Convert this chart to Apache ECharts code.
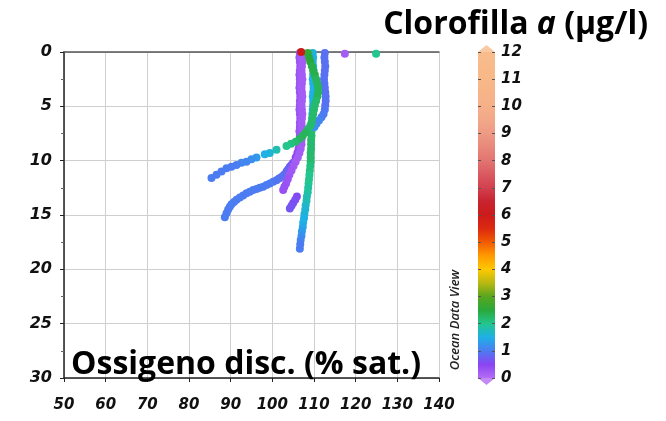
<!DOCTYPE html>
<html><head><meta charset="utf-8">
<script src="https://cdn.jsdelivr.net/npm/echarts@6/dist/echarts.min.js"></script>
<style>html,body{margin:0;padding:0;background:#fff}#c{width:666px;height:421px}</style>
</head><body><div id="c"></div>
<script>
// [oxygen % sat, depth m, chlorophyll a µg/l]
const profileTeal = [[109.7,0.1,1.6],[109.8,0.5,1.5],[109.7,0.9,1.5],[109.8,1.3,1.5],[109.9,1.7,1.5],[109.8,2.1,1.5],[109.7,2.5,1.5],[109.8,2.9,1.5],[109.9,3.3,1.5],[109.8,3.7,1.5],[109.7,4.1,1.5],[109.8,4.5,1.5],[109.8,4.9,1.4],[109.7,5.3,1.4],[109.6,5.7,1.5],[109.6,6.1,1.6],[109.5,6.5,1.8],[109.5,6.9,2.0],[109.4,7.3,2.1],[109.4,7.7,2.2],[109.3,8.1,2.2],[109.3,8.5,2.2],[109.3,8.9,2.2],[109.2,9.3,2.2],[109.2,9.7,2.2],[109.2,10.1,2.2],[109.1,10.5,2.1],[109.0,10.9,2.1],[108.9,11.3,2.0],[108.8,11.7,2.0],[108.7,12.1,2.0],[108.6,12.5,1.9],[108.5,12.9,1.9],[108.3,13.3,1.8],[108.2,13.7,1.8],[108.0,14.1,1.7],[107.9,14.5,1.6],[107.7,14.9,1.6],[107.6,15.3,1.5],[107.4,15.7,1.5],[107.3,16.1,1.4],[107.1,16.5,1.3],[107.0,16.9,1.2],[106.8,17.3,1.1],[106.7,17.7,1.0],[106.6,18.1,1.0]];
const profileBlue = [[112.6,0.1,0.9],[112.5,0.5,0.9],[112.6,0.9,0.9],[112.7,1.3,0.9],[112.6,1.7,0.9],[112.5,2.1,0.9],[112.4,2.5,0.9],[112.5,2.9,0.9],[112.6,3.3,0.9],[112.7,3.7,0.9],[112.8,4.1,0.9],[112.8,4.5,0.9],[112.7,4.9,0.9],[112.6,5.3,0.95],[112.3,5.7,1.0],[111.8,6.0,1.0],[111.2,6.3,1.1],[110.6,6.6,1.1],[110.1,6.9,1.2]];
const profilePurpleA = [[106.6,0.1,0.3],[106.5,0.5,0.3],[106.6,0.9,0.3],[106.7,1.3,0.3],[106.6,1.7,0.3],[106.5,2.1,0.3],[106.6,2.5,0.3],[106.6,2.9,0.3],[106.5,3.3,0.3],[106.6,3.7,0.3],[106.7,4.1,0.3],[106.6,4.5,0.3],[106.6,4.9,0.3],[106.5,5.3,0.3],[106.6,5.7,0.3],[106.7,6.1,0.3],[106.6,6.5,0.3],[106.6,6.9,0.3],[106.5,7.3,0.3],[106.6,7.7,0.3],[106.6,8.1,0.3],[106.5,8.5,0.35],[106.3,8.9,0.4],[106.0,9.3,0.45],[105.6,9.7,0.5],[105.0,10.2,0.6],[104.6,10.4,0.65],[104.2,10.55,0.7],[103.8,10.8,0.75],[103.4,11.0,0.8],[102.8,11.3,0.85],[102.2,11.5,0.9],[101.6,11.65,0.9],[101.0,11.8,0.95],[100.2,11.95,0.95],[99.4,12.1,1.0],[98.6,12.25,1.0],[97.8,12.4,1.0],[97.0,12.5,1.0],[96.2,12.6,1.0],[95.4,12.7,1.0],[94.6,12.85,1.0],[93.8,13.0,1.0],[93.0,13.2,1.0],[92.2,13.4,1.0],[91.4,13.6,1.0],[90.8,13.8,1.0],[90.2,14.0,1.0],[89.8,14.25,1.0],[89.4,14.5,1.0],[89.0,14.85,1.0],[88.6,15.2,1.0]];
const profilePurpleB = [[107.1,0.1,0.2],[107.0,0.5,0.2],[107.2,0.9,0.2],[107.1,1.3,0.2],[107.0,1.7,0.2],[107.1,2.1,0.2],[107.2,2.5,0.2],[107.1,2.9,0.2],[107.0,3.3,0.2],[107.1,3.7,0.2],[107.2,4.1,0.2],[107.1,4.5,0.2],[107.0,4.9,0.2],[107.1,5.3,0.2],[107.2,5.7,0.2],[107.1,6.1,0.2],[107.0,6.5,0.2],[107.1,6.9,0.2],[107.2,7.3,0.2],[107.1,7.7,0.2],[107.0,8.1,0.2],[107.0,8.5,0.2],[106.8,8.9,0.2],[106.5,9.3,0.2],[106.1,9.7,0.2],[105.6,10.1,0.2],[105.1,10.5,0.22],[104.6,10.9,0.25],[104.1,11.3,0.25],[103.7,11.7,0.3],[103.3,12.1,0.3],[102.9,12.4,0.35],[102.6,12.7,0.35]];
const profileShort = [[105.9,13.3,0.55],[105.5,13.6,0.6],[105.0,13.9,0.6],[104.6,14.15,0.65],[104.2,14.4,0.65]];
const profileGreen = [[108.5,0.1,2.6],[108.8,0.5,2.5],[109.1,0.9,2.5],[109.5,1.3,2.4],[109.8,1.7,2.4],[110.2,2.1,2.4],[110.5,2.5,2.3],[110.8,2.9,2.3],[111.0,3.3,2.3],[111.0,3.7,2.3],[110.8,4.1,2.3],[110.5,4.5,2.2],[110.2,4.9,2.2],[110.0,5.3,2.2],[109.8,5.7,2.2],[109.6,6.1,2.2],[109.4,6.5,2.2],[109.1,6.8,2.2],[108.6,7.1,2.2],[108.0,7.4,2.3],[107.3,7.7,2.3],[106.5,8.0,2.3],[105.6,8.25,2.2],[104.5,8.45,2.1],[103.4,8.65,2.0],[101.0,9.0,1.8],[99.4,9.3,1.6],[98.2,9.4,1.5],[96.2,9.7,1.3],[95.0,9.87,1.2],[93.8,10.1,1.1],[92.6,10.2,1.1],[91.4,10.4,1.0],[90.2,10.55,1.0],[89.0,10.7,1.0],[87.8,11.0,1.0],[86.6,11.3,1.0],[85.4,11.6,1.0]];
const surfacePoints = [[117.4,0.15,0.2],[124.9,0.15,2.0],[106.9,0.0,6.0]];

const oxygenTicks = [50,60,70,80,90,100,110,120,130,140];
const depthTicks = [0,5,10,15,20,25,30];
const chlColors = ['#b46cf5','#8a44f2','#4c7cf2','#1eb0e6','#22c68e','#2aa83a','#5aa61e','#b8b812','#ffc800','#ff9a00','#f25a00','#dc2a10','#cc1a1a','#c82430','#d2404e','#da5a60','#e27470','#e8887a','#ee9a84','#f2a888','#f5b088','#f7b488','#f8b888','#f8ba8a','#f8bc8c'];
const chlMin = 0, chlMax = 12;

const chart = echarts.init(document.getElementById('c'), null, {renderer:'canvas'});
const lblFont = {fontFamily:'DejaVu Sans', fontWeight:'bold', fontStyle:'italic', color:'#111'};
const profiles = [profileTeal, profileBlue, profilePurpleA, profilePurpleB, profileShort, profileGreen, surfacePoints];
const scatterSeries = profiles.map(p => ({
  type:'scatter', xAxisIndex:0, yAxisIndex:0, data:p, symbolSize:8, clip:false,
  itemStyle:{opacity:1}, emphasis:{disabled:true}
}));
const gradStops = chlColors.map((c,i)=>({offset:i/(chlColors.length-1), color:c}));

chart.setOption({
  animation:false,
  backgroundColor:'#fff',
  grid:[
    {left:64, top:52, width:375, height:326},
    {left:478, top:52, width:17, height:326}
  ],
  xAxis:[
    {gridIndex:0, type:'value', position:'bottom', min:oxygenTicks[0], max:oxygenTicks[oxygenTicks.length-1], interval:10,
     axisLine:{show:true, onZero:false, lineStyle:{color:'#222', width:1.5}},
     axisTick:{show:true, length:4, lineStyle:{color:'#222'}},
     axisLabel:Object.assign({fontSize:15, margin:20}, lblFont),
     splitLine:{show:true, lineStyle:{color:'#cfcfcf', width:1}}},
    {gridIndex:0, type:'value', position:'top', min:50, max:140,
     axisLine:{show:true, onZero:false, lineStyle:{color:'#555', width:1.5}},
     axisTick:{show:false}, axisLabel:{show:false}, splitLine:{show:false}},
    {gridIndex:1, type:'category', data:['cb'], show:false, boundaryGap:true}
  ],
  yAxis:[
    {gridIndex:0, type:'value', inverse:true, min:depthTicks[0], max:depthTicks[depthTicks.length-1], interval:5,
     axisLine:{show:true, onZero:false, lineStyle:{color:'#222', width:1.5}},
     axisTick:{show:true, length:4, lineStyle:{color:'#222'}},
     minorTick:{show:true, splitNumber:2, length:3, lineStyle:{color:'#666'}},
     axisLabel:Object.assign({fontSize:16, margin:12}, lblFont),
     splitLine:{show:true, lineStyle:{color:'#cfcfcf', width:1}}},
    {gridIndex:1, type:'value', position:'right', min:chlMin, max:chlMax, interval:1, z:10,
     axisLine:{show:false}, axisTick:{show:true, inside:true, length:3, lineStyle:{color:'#555'}},
     axisLabel:Object.assign({fontSize:15, margin:6}, lblFont), splitLine:{show:false}},
    {gridIndex:1, type:'value', position:'left', min:chlMin, max:chlMax, interval:1, z:10,
     axisLine:{show:false}, axisTick:{show:true, inside:true, length:3, lineStyle:{color:'#555'}},
     axisLabel:{show:false}, splitLine:{show:false}}
  ],
  visualMap:{type:'continuous', show:false, min:chlMin, max:chlMax, dimension:2,
    seriesIndex:scatterSeries.map((s,i)=>i), inRange:{color:chlColors}},
  series: scatterSeries.concat([
    {type:'bar', xAxisIndex:2, yAxisIndex:1, data:[chlMax], barWidth:17, silent:true,
     itemStyle:{color:{type:'linear', x:0, y:1, x2:0, y2:0, colorStops:gradStops}}},
    {type:'scatter', xAxisIndex:2, yAxisIndex:1, data:[['cb',chlMax]], symbol:'triangle', symbolSize:[17,7], symbolOffset:[0,-3.5], silent:true,
     itemStyle:{color:chlColors[chlColors.length-1]}},
    {type:'scatter', xAxisIndex:2, yAxisIndex:1, data:[['cb',chlMin]], symbol:'triangle', symbolRotate:180, symbolSize:[17,7], symbolOffset:[0,3.5], silent:true,
     itemStyle:{color:chlColors[0]}}
  ]),
  graphic:[
    {type:'text', right:18, top:9, z:20, style:{
      rich:{b:{fontFamily:'Open Sans', fontWeight:'bold', fontSize:32, fill:'#000'},
            i:{fontFamily:'Open Sans', fontWeight:'bold', fontStyle:'italic', fontSize:32, fill:'#000'}},
      text:'{b|Clorofilla }{i|a}{b| (µg/l)}'}},
    {type:'text', left:71, top:349, z:20, style:{text:'Ossigeno disc. (% sat.)', fontFamily:'Open Sans', fontWeight:'bold', fontSize:32, fill:'#000'}},
    {type:'text', x:455, y:320, rotation:Math.PI/2, z:20, style:{text:'Ocean Data View', fontFamily:'Open Sans', fontWeight:600, fontStyle:'italic', fontSize:13, fill:'#222', align:'center', verticalAlign:'middle'}}
  ]
});
</script></body></html>
